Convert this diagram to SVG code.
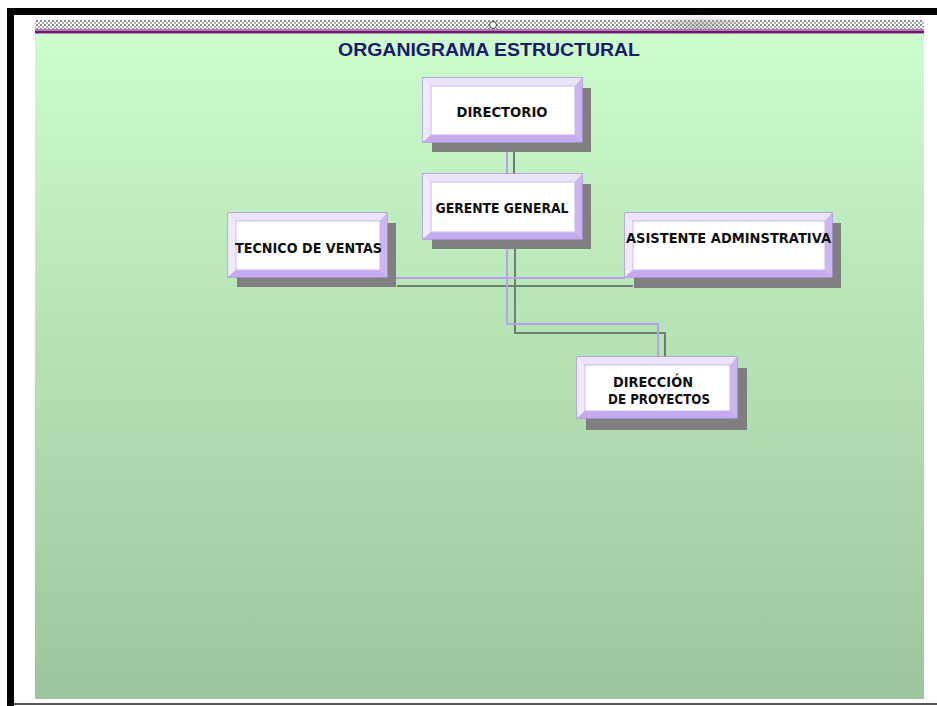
<svg xmlns="http://www.w3.org/2000/svg" width="937" height="706" viewBox="0 0 937 706">
  <defs>
    <linearGradient id="bg" x1="0" y1="0" x2="0" y2="1">
      <stop offset="0" stop-color="#cdfccd"/>
      <stop offset="0.45" stop-color="#b6e3b6"/>
      <stop offset="1" stop-color="#9dc59d"/>
    </linearGradient>
    <pattern id="dots" width="4" height="4" patternUnits="userSpaceOnUse">
      <rect width="4" height="4" fill="#ffffff"/>
      <rect x="0" y="0" width="2" height="2" fill="#8e8e8e"/>
      <rect x="2" y="2" width="2" height="2" fill="#adadad"/>
    </pattern>
    <radialGradient id="smudge" cx="0.5" cy="0.5" r="0.5">
      <stop offset="0" stop-color="#909090" stop-opacity="0.5"/>
      <stop offset="1" stop-color="#909090" stop-opacity="0"/>
    </radialGradient>
  </defs>
  <style>
    .shadow { fill: #7f7f7f; }
    .outer { fill: #dccdf6; stroke: #b394e6; stroke-width: 1.5; }
    .bt { fill: #ece2fb; }
    .bl { fill: #f1eafc; }
    .br { fill: #cdb6f0; }
    .bb { fill: #c6aaee; }
    .face { fill: #ffffff; stroke: #cbb6f2; stroke-width: 1; }
    .lbl { font-family: "DejaVu Sans", "Liberation Sans", sans-serif; font-weight: bold; font-size: 14px; fill: #111111; text-anchor: middle; }
    .c1 { fill: none; stroke: #b9a2ea; stroke-width: 2; }
    .c2 { fill: none; stroke: #6f7f6f; stroke-width: 2; }
  </style>

  <!-- frame -->
  <rect x="0" y="0" width="937" height="706" fill="#ffffff"/>
  <rect x="7" y="8" width="930" height="7" fill="#000000"/>
  <rect x="7" y="8" width="7" height="698" fill="#000000"/>
  <rect x="14" y="703" width="923" height="2" fill="#555555"/>

  <!-- header band -->
  <rect x="35" y="20" width="889" height="9" fill="url(#dots)"/>
  <rect x="640" y="14" width="120" height="22" fill="url(#smudge)"/>
  <rect x="35" y="29" width="889" height="2" fill="#b07ab8"/>
  <rect x="35" y="31" width="889" height="2.5" fill="#6a1a6e"/>
  <circle cx="493" cy="25" r="3.5" fill="#ffffff" stroke="#333333" stroke-width="1"/>

  <!-- background panel -->
  <rect x="35" y="34" width="889" height="665" fill="url(#bg)"/>

  <text x="489" y="56" font-family="Liberation Sans, Arial, sans-serif" font-weight="bold" font-size="18" fill="#1b1b6b" text-anchor="middle" textLength="302" lengthAdjust="spacingAndGlyphs">ORGANIGRAMA ESTRUCTURAL</text>

  <!-- connectors -->
  <g id="connectors">
    <path class="c2" d="M514,150 V174"/>
    <path class="c2" d="M515,249 V333 H665 V357"/>
    <path class="c2" d="M397,286 H633"/>
    <path class="c1" d="M507,142 V174"/>
    <path class="c1" d="M507,239 V324 H658 V357"/>
    <path class="c1" d="M387,278 H625"/>
  </g>

  <g id="directorio">
    <rect class="shadow" x="432" y="88" width="159" height="64"/>
    <rect class="outer" x="423" y="78" width="159" height="64"/>
    <polygon class="bt" points="423,78 582,78 575,86 431,86"/>
    <polygon class="bl" points="423,78 431,86 431,135 423,142"/>
    <polygon class="br" points="582,78 582,142 575,135 575,86"/>
    <polygon class="bb" points="423,142 431,135 575,135 582,142"/>
    <rect class="face" x="431" y="86" width="144" height="49"/>
    <text class="lbl" x="502" y="117" textLength="91" lengthAdjust="spacingAndGlyphs">DIRECTORIO</text>
  </g>

  <g id="gerente">
    <rect class="shadow" x="432" y="184" width="159" height="65"/>
    <rect class="outer" x="423" y="174" width="159" height="65"/>
    <polygon class="bt" points="423,174 582,174 575,182 431,182"/>
    <polygon class="bl" points="423,174 431,182 431,232 423,239"/>
    <polygon class="br" points="582,174 582,239 575,232 575,182"/>
    <polygon class="bb" points="423,239 431,232 575,232 582,239"/>
    <rect class="face" x="431" y="182" width="144" height="50"/>
    <text class="lbl" x="502" y="213" textLength="133" lengthAdjust="spacingAndGlyphs">GERENTE GENERAL</text>
  </g>

  <g id="tecnico">
    <rect class="shadow" x="237" y="223" width="159" height="64"/>
    <rect class="outer" x="228" y="213" width="159" height="64"/>
    <polygon class="bt" points="228,213 387,213 380,221 236,221"/>
    <polygon class="bl" points="228,213 236,221 236,270 228,277"/>
    <polygon class="br" points="387,213 387,277 380,270 380,221"/>
    <polygon class="bb" points="228,277 236,270 380,270 387,277"/>
    <rect class="face" x="236" y="221" width="144" height="49"/>
    <text class="lbl" x="308.5" y="253" textLength="147" lengthAdjust="spacingAndGlyphs">TECNICO DE VENTAS</text>
  </g>

  <g id="asistente">
    <rect class="shadow" x="634" y="223" width="207" height="65"/>
    <rect class="outer" x="625" y="213" width="207" height="64"/>
    <polygon class="bt" points="625,213 832,213 825,221 633,221"/>
    <polygon class="bl" points="625,213 633,221 633,270 625,277"/>
    <polygon class="br" points="832,213 832,277 825,270 825,221"/>
    <polygon class="bb" points="625,277 633,270 825,270 832,277"/>
    <rect class="face" x="633" y="221" width="192" height="49"/>
    <text class="lbl" x="728.5" y="243" textLength="205" lengthAdjust="spacingAndGlyphs">ASISTENTE ADMINSTRATIVA</text>
  </g>

  <g id="direccion">
    <rect class="shadow" x="586" y="368" width="161" height="62"/>
    <rect class="outer" x="577" y="357" width="160" height="61"/>
    <polygon class="bt" points="577,357 737,357 730,365 585,365"/>
    <polygon class="bl" points="577,357 585,365 585,411 577,418"/>
    <polygon class="br" points="737,357 737,418 730,411 730,365"/>
    <polygon class="bb" points="577,418 585,411 730,411 737,418"/>
    <rect class="face" x="585" y="365" width="145" height="46"/>
    <text class="lbl" x="653" y="387" textLength="80" lengthAdjust="spacingAndGlyphs">DIRECCIÓN</text>
    <text class="lbl" x="659" y="404" textLength="102" lengthAdjust="spacingAndGlyphs">DE PROYECTOS</text>
  </g>
</svg>
